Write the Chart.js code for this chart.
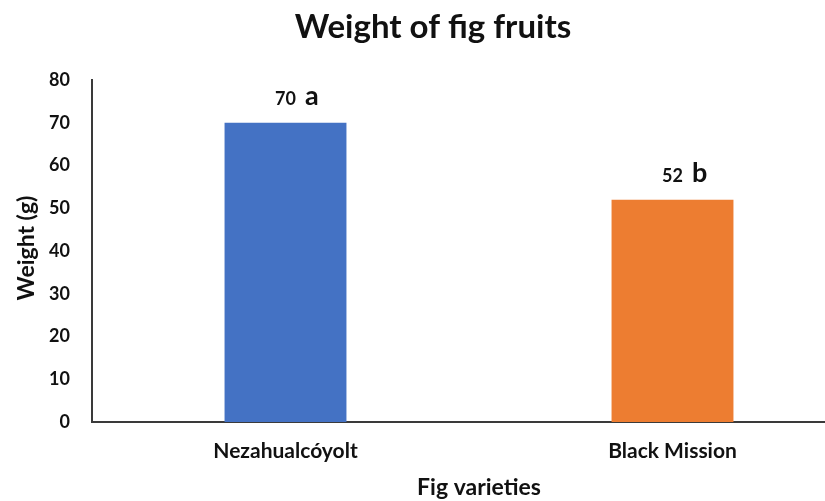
<!DOCTYPE html>
<html>

<head>
    <meta charset="utf-8" />
    <style>
        html, body { margin: 0; padding: 0; background: #fff; overflow: hidden; }
        .chart-wrap { position: relative; width: 880px; height: 501px; }
    </style>
</head>

<body>
    <div class="chart-wrap">
        <canvas id="figChart" width="880" height="501"></canvas>
    </div>

    <script src="https://cdn.jsdelivr.net/npm/chart.js@4.4.0/dist/chart.umd.min.js"></script>

    <script>
        // data
        const varieties = ["Nezahualcóyolt", "Black Mission"];
        const weights = [70, 52];
        const letters = ["a", "b"];
        const barColors = ["#4472C4", "#ED7D31"];

        const fontFamily = "Lato, 'Open Sans', sans-serif";
        const textColor = "#111111";

        // number above each bar, with the significance letter beside it
        const barLabels = {
            id: 'barLabels',
            afterDatasetsDraw(chart) {
                const ctx = chart.ctx;
                const meta = chart.getDatasetMeta(0);
                ctx.save();
                ctx.fillStyle = textColor;
                ctx.textBaseline = 'alphabetic';
                meta.data.forEach(function (bar, i) {
                    const y = bar.y - 18;
                    ctx.font = "bold 18px " + fontFamily;
                    ctx.textAlign = 'center';
                    const txt = String(weights[i]);
                    ctx.fillText(txt, bar.x, y);
                    const w = ctx.measureText(txt).width;
                    ctx.font = "bold 27px " + fontFamily;
                    ctx.textAlign = 'left';
                    ctx.fillText(letters[i], bar.x + w / 2 + 9, y);
                });
                ctx.restore();
            }
        };

        // axis titles
        const axisTitles = {
            id: 'axisTitles',
            afterDraw(chart) {
                const ctx = chart.ctx;
                const area = chart.chartArea;
                ctx.save();
                ctx.fillStyle = textColor;
                ctx.textAlign = 'center';
                ctx.textBaseline = 'middle';
                ctx.font = "bold 23px " + fontFamily;
                ctx.fillText("Fig varieties", (area.left + area.right) / 2, 488);
                ctx.translate(27, 248);
                ctx.rotate(-Math.PI / 2);
                ctx.fillText("Weight (g)", 0, 0);
                ctx.restore();
            }
        };

        let figCtx = document.getElementById('figChart');
        let figChart = new Chart(figCtx, {
            type: 'bar',
            data: {
                labels: varieties,
                datasets: [{
                    data: weights,
                    backgroundColor: barColors,
                    barPercentage: 0.315,
                    categoryPercentage: 1.0
                }]
            },
            options: {
                responsive: false,
                animation: false,
                layout: {
                    padding: { left: 0, right: 14, top: 0, bottom: 0 }
                },
                scales: {
                    x: {
                        grid: { display: false, drawTicks: false },
                        border: { display: true, color: '#3a3a3a', width: 2 },
                        ticks: {
                            padding: 17,
                            color: textColor,
                            font: { family: fontFamily, size: 21, weight: 'bold' }
                        },
                        afterFit: function (scale) { scale.height = 79; }
                    },
                    y: {
                        min: 0,
                        max: 80,
                        grid: { display: false, drawTicks: false },
                        border: { display: true, color: '#3a3a3a', width: 2 },
                        ticks: {
                            stepSize: 10,
                            padding: 22,
                            color: textColor,
                            font: { family: fontFamily, size: 18, weight: 'bold' }
                        },
                        afterFit: function (scale) { scale.width = 92; }
                    }
                },
                plugins: {
                    legend: { display: false },
                    tooltip: { enabled: false },
                    title: {
                        display: true,
                        text: 'Weight of fig fruits',
                        color: textColor,
                        font: { family: fontFamily, size: 33, weight: 'bold' },
                        padding: { top: 8, bottom: 32.4 }
                    }
                }
            },
            plugins: [barLabels, axisTitles]
        });
    </script>
</body>

</html>
